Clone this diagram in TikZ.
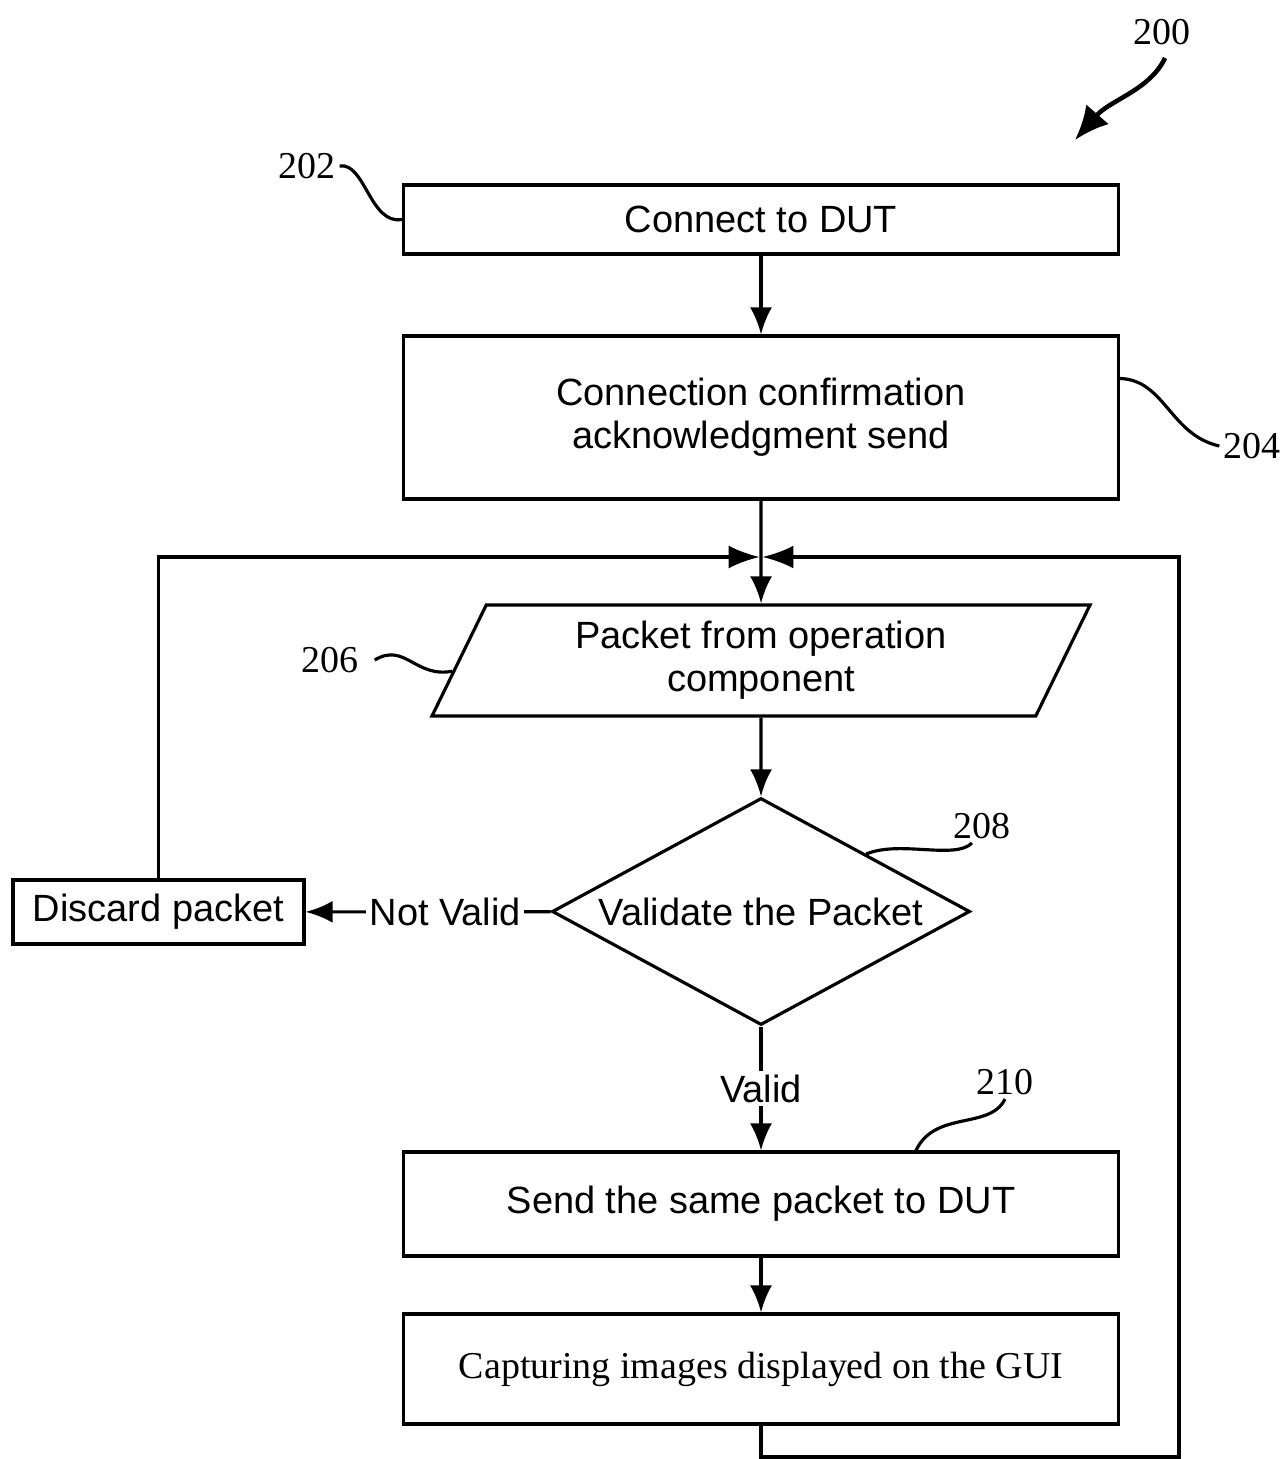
\documentclass[tikz,border=0pt]{standalone}
\usepackage{fontspec}
\setmainfont{Liberation Serif}
\setsansfont{Liberation Sans}
\usetikzlibrary{arrows.meta,positioning,calc,shapes.geometric}
\tikzset{arr/.style={draw, -{Latex[length=2.7mm,width=2.2mm]}, line width=0.9pt}}
\newcommand{\fsz}{\fontsize{10.8}{12.3}\selectfont}

\begin{document}
\begin{tikzpicture}[stepbox/.style={draw,line width=0.9pt,minimum width=7.15cm,align=center,font=\sffamily\fsz},
    refnum/.style={inner sep=1pt,font=\fsz},
    lead/.style={line width=0.9pt}]
    \useasboundingbox (0,0) rectangle (12.85,-14.59);

    \node[stepbox,minimum height=0.69cm] (connect) at (7.61,-2.195) {Connect to DUT};
    \node[stepbox,minimum height=1.63cm] (confirm) at (7.61,-4.175) {Connection confirmation\\acknowledgment send};
    \coordinate (junction) at (7.61,-5.57);

    \node[draw,line width=0.9pt,trapezium,trapezium left angle=62,trapezium right angle=118,
          trapezium stretches body=true,minimum width=6.58cm,minimum height=1.11cm,
          align=center,font=\sffamily\fsz] (packet) at (7.61,-6.605) {Packet from operation\\component};

    \node[draw,line width=0.9pt,diamond,shape aspect=1.84,minimum width=4.18cm,minimum height=2.27cm,
          inner sep=0pt,font=\sffamily\fsz] (check) at (7.61,-9.115) {Validate the Packet};

    \node[stepbox,minimum width=2.91cm,minimum height=0.64cm] (discard) at (1.585,-9.12) {Discard packet};

    \node[stepbox,minimum height=1.04cm] (send) at (7.61,-12.04) {Send the same packet to DUT};
    \node[stepbox,minimum height=1.10cm,font=\rmfamily\fsz] (capture) at (7.61,-13.69) {Capturing images displayed on the GUI};

    % main flow
    \draw[arr] (connect) -- (confirm);
    \draw[arr] (confirm) -- (packet);
    \draw[arr] (packet) -- (check);
    \draw[arr] (check) -- node[fill=white,inner sep=1pt,font=\sffamily\fsz]{Valid} (send);
    \draw[arr] (check) -- node[pos=0.43,fill=white,inner sep=1pt,font=\sffamily\fsz]{Not Valid} (discard);
    \draw[arr] (send) -- (capture);

    % loops back to the top
    \coordinate (loopbr) at (11.79,-14.57);
    \draw[arr,-{Latex[length=3.1mm,width=2.3mm]}] (discard.north) |- ([xshift=-0.4pt]junction);
    \draw[arr,-{Latex[length=3.1mm,width=2.3mm]}] (capture.south) |- (loopbr) |- ([xshift=0.4pt]junction);

    % reference numerals
    \node[refnum] (n200) at (11.62,-0.32) {200};
    \draw[line width=1.3pt,-{Latex[length=3.4mm,width=3mm]}] (11.65,-0.58) .. controls (11.5,-0.9) and (11.1,-1.0) .. (10.75,-1.4);

    \node[refnum] (n202) at (3.07,-1.66) {202};
    \draw[lead] (n202.east) .. controls (3.65,-1.62) and (3.7,-2.25) .. (connect.west);

    \node[refnum] (n204) at (12.52,-4.46) {204};
    \draw[lead] ([yshift=0.39cm]confirm.east) .. controls (11.65,-3.8) and (11.7,-4.35) .. (n204.west);

    \node[refnum] (n206) at (3.3,-6.6) {206};
    \draw[lead] (n206.east) ++(0.12,0) .. controls (4.05,-6.42) and (4.15,-6.78) .. (packet.182);

    \node[refnum] (n208) at (9.82,-8.26) {208};
    \draw[lead] (check.north east) .. controls (9.0,-8.4) and (9.55,-8.6) .. ([xshift=-0.1cm]n208.south);

    \node[refnum] (n210) at (10.05,-10.82) {210};
    \draw[lead] (n210.south) .. controls (9.9,-11.3) and (9.35,-11.1) .. ([xshift=1.55cm]send.north);
\end{tikzpicture}
\end{document}
